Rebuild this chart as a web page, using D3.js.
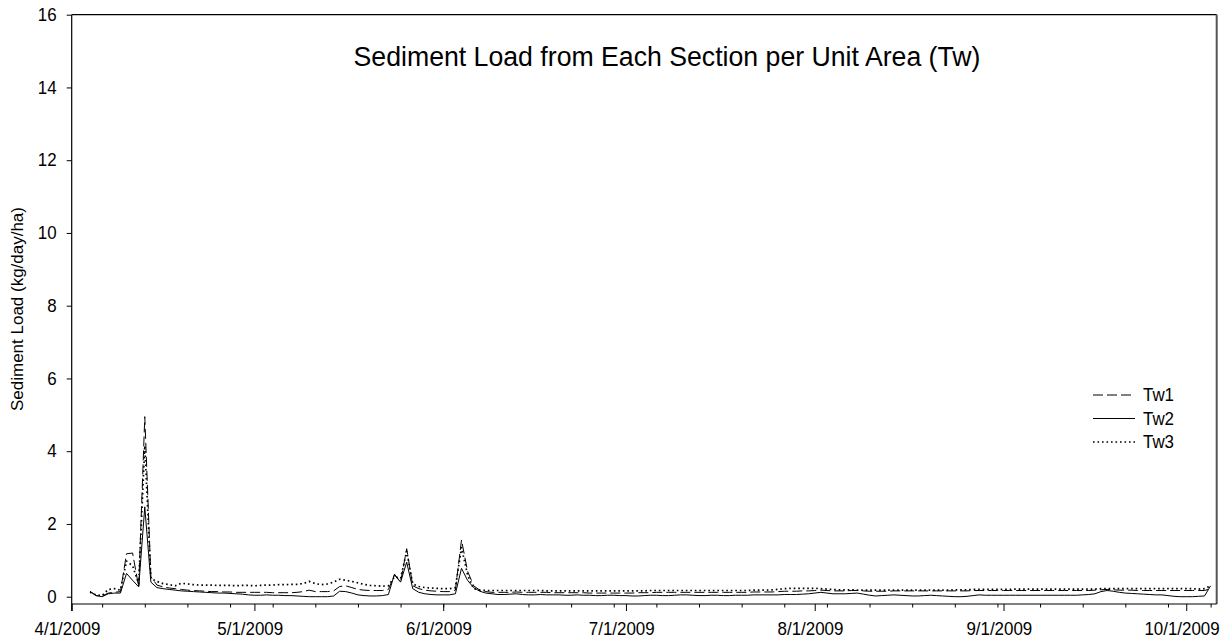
<!DOCTYPE html>
<html><head><meta charset="utf-8">
<script src="https://cdn.jsdelivr.net/npm/d3@7"></script>
<style>
body{margin:0;background:#fff}
svg{display:block}
text{font-family:"Liberation Sans",Arial,sans-serif;fill:#000}
</style>
</head><body>
<svg id="chart" width="1227" height="640"></svg>
<script>
// ---------------- data (daily, starting 4/4/2009) ----------------
const startDate = "2009-04-04";
const seriesNames = ["Tw1", "Tw2", "Tw3"];

const tw1 = [
  // April 4-30
  0.15,0.03,0.02,0.10,0.12,0.14,1.18,1.20,0.27,4.95,0.55,0.32,0.27,0.24,0.22,0.20,0.18,0.17,0.16,0.15,0.14,0.14,0.13,0.13,0.12,0.12,0.12,
  // May
  0.12,0.12,0.12,0.11,0.11,0.11,0.11,0.12,0.14,0.18,0.14,0.14,0.14,0.16,0.28,0.30,0.25,0.20,0.18,0.17,0.17,0.17,0.20,0.60,0.40,1.32,0.30,0.22,0.18,0.16,0.15,
  // June
  0.14,0.14,0.18,1.56,0.70,0.30,0.18,0.14,0.12,0.12,0.12,0.12,0.13,0.12,0.12,0.12,0.12,0.12,0.11,0.11,0.11,0.11,0.11,0.11,0.10,0.10,0.10,0.10,0.10,0.10,
  // July
  0.10,0.10,0.11,0.11,0.11,0.12,0.12,0.12,0.12,0.12,0.12,0.12,0.12,0.12,0.12,0.12,0.12,0.12,0.12,0.12,0.12,0.13,0.13,0.13,0.13,0.14,0.15,0.15,0.15,0.16,0.16,
  // August
  0.17,0.18,0.17,0.16,0.16,0.16,0.17,0.17,0.16,0.15,0.15,0.15,0.15,0.16,0.16,0.16,0.16,0.16,0.16,0.16,0.16,0.16,0.16,0.16,0.16,0.16,0.17,0.17,0.17,0.17,0.17,
  // September
  0.17,0.17,0.17,0.17,0.17,0.17,0.17,0.17,0.17,0.17,0.17,0.17,0.17,0.17,0.17,0.18,0.19,0.20,0.19,0.18,0.18,0.18,0.17,0.17,0.17,0.17,0.17,0.17,0.17,0.17,
  // October 1-5
  0.17,0.17,0.17,0.17,0.22
];

const tw2 = [
  0.14,0.03,0.00,0.08,0.10,0.10,0.64,0.45,0.27,2.47,0.40,0.25,0.22,0.20,0.18,0.16,0.15,0.14,0.13,0.12,0.11,0.10,0.10,0.09,0.08,0.07,0.05,
  0.04,0.04,0.05,0.04,0.04,0.03,0.03,0.02,0.01,0.00,0.00,0.00,0.00,0.02,0.15,0.14,0.10,0.05,0.03,0.02,0.02,0.03,0.06,0.62,0.40,0.95,0.22,0.12,0.08,0.06,0.05,
  0.05,0.05,0.08,0.78,0.45,0.25,0.15,0.10,0.08,0.06,0.06,0.07,0.08,0.06,0.05,0.05,0.06,0.05,0.05,0.05,0.04,0.04,0.05,0.04,0.04,0.03,0.03,0.04,0.04,0.03,
  0.03,0.02,0.02,0.03,0.04,0.04,0.03,0.03,0.04,0.05,0.05,0.04,0.03,0.03,0.04,0.04,0.03,0.03,0.04,0.04,0.04,0.05,0.05,0.05,0.05,0.05,0.06,0.06,0.06,0.07,0.08,
  0.10,0.12,0.10,0.08,0.08,0.08,0.09,0.10,0.07,0.04,0.02,0.03,0.04,0.05,0.04,0.03,0.02,0.02,0.03,0.04,0.03,0.02,0.01,0.00,0.00,0.01,0.03,0.05,0.04,0.04,0.04,
  0.04,0.04,0.04,0.04,0.04,0.04,0.04,0.04,0.04,0.04,0.04,0.04,0.04,0.05,0.06,0.08,0.14,0.17,0.15,0.12,0.10,0.09,0.08,0.07,0.06,0.05,0.05,0.03,0.01,0.00,
  0.00,0.00,0.01,0.02,0.30
];

const tw3 = [
  0.12,0.05,0.03,0.20,0.22,0.18,0.98,0.85,0.35,4.15,0.50,0.42,0.36,0.33,0.30,0.37,0.35,0.33,0.32,0.32,0.32,0.31,0.31,0.31,0.30,0.31,0.31,
  0.30,0.31,0.32,0.32,0.33,0.33,0.34,0.34,0.36,0.42,0.36,0.33,0.35,0.40,0.48,0.45,0.42,0.38,0.34,0.31,0.30,0.29,0.30,0.55,0.50,1.25,0.35,0.28,0.25,0.24,0.23,
  0.22,0.22,0.25,1.35,0.60,0.22,0.18,0.17,0.17,0.17,0.17,0.17,0.17,0.17,0.17,0.17,0.17,0.16,0.16,0.16,0.16,0.16,0.16,0.16,0.16,0.16,0.16,0.16,0.16,0.16,
  0.16,0.16,0.16,0.16,0.17,0.17,0.17,0.17,0.17,0.17,0.17,0.17,0.17,0.17,0.17,0.17,0.17,0.17,0.17,0.17,0.17,0.18,0.18,0.18,0.19,0.20,0.22,0.23,0.23,0.23,0.23,
  0.23,0.22,0.21,0.20,0.19,0.19,0.19,0.18,0.18,0.18,0.18,0.18,0.18,0.18,0.18,0.18,0.18,0.18,0.18,0.18,0.18,0.18,0.18,0.19,0.19,0.19,0.20,0.20,0.20,0.20,0.20,
  0.20,0.20,0.21,0.21,0.21,0.21,0.21,0.21,0.21,0.21,0.21,0.21,0.21,0.21,0.21,0.21,0.22,0.22,0.22,0.22,0.22,0.22,0.22,0.22,0.22,0.22,0.22,0.22,0.22,0.22,
  0.22,0.22,0.21,0.22,0.30
];

const yTickValues = [0, 2, 4, 6, 8, 10, 12, 14, 16];
const monthTicks = ["2009-04-01","2009-05-01","2009-06-01","2009-07-01","2009-08-01","2009-09-01","2009-10-01"];
const titleText = "Sediment Load from Each Section per Unit Area (Tw)";
const yTitle = "Sediment Load (kg/day/ha)";

// ---------------- drawing ----------------
const parse = d3.timeParse("%Y-%m-%d");
const start = parse(startDate);
const svg = d3.select("#chart");

const plotLeft = 71.7, plotRight = 1216.7, plotTop = 14.7, zeroY = 596.7, axisY = 604;
const x = d3.scaleTime().domain([parse("2009-04-01"), parse("2009-10-06")]).range([plotLeft, plotRight]);
const y = d3.scaleLinear().domain([0, 16]).range([zeroY, plotTop]);

const styles = {
  Tw1: {dash: "10,4", width: 1, cap: "butt"},
  Tw2: {dash: null, width: 1, cap: "butt"},
  Tw3: {dash: "1.6,2.9", width: 1.7, cap: "butt"}
};
const seriesData = {Tw1: tw1, Tw2: tw2, Tw3: tw3};
const squeeze = "scale(0.94,1)";

// frame
svg.append("line").attr("x1", plotLeft).attr("x2", plotRight).attr("y1", plotTop).attr("y2", plotTop)
  .attr("stroke", "#000").attr("stroke-width", 1.2);
svg.append("line").attr("x1", plotRight).attr("x2", plotRight).attr("y1", plotTop).attr("y2", axisY)
  .attr("stroke", "#555").attr("stroke-width", 2);

// lines
const line = d3.line()
  .x((d, i) => x(d3.timeDay.offset(start, i)))
  .y(d => y(d));

seriesNames.forEach(name => {
  svg.append("path")
    .datum(seriesData[name])
    .attr("fill", "none")
    .attr("stroke", "#000")
    .attr("stroke-width", styles[name].width)
    .attr("stroke-dasharray", styles[name].dash)
    .attr("stroke-linecap", styles[name].cap)
    .attr("stroke-linejoin", "round")
    .attr("d", line);
});

// y axis
const yAxis = svg.append("g").attr("transform", `translate(${plotLeft},0)`)
  .call(d3.axisLeft(y).tickValues(yTickValues).tickSize(5).tickPadding(11).tickFormat(d3.format("d")));
yAxis.select(".domain").remove();
yAxis.selectAll("text").style("font-size", "18px").attr("font-family", null).attr("transform", squeeze);
yAxis.selectAll("line").attr("stroke", "#000");
svg.append("line").attr("x1", plotLeft).attr("x2", plotLeft).attr("y1", plotTop).attr("y2", axisY + 7)
  .attr("stroke", "#000").attr("stroke-width", 1.2);

// x axis
const fmt = d3.timeFormat("%-m/%-d/%Y");
const xMinor = svg.append("g").attr("transform", `translate(0,${axisY})`)
  .call(d3.axisBottom(x).ticks(d3.timeMonday.every(1)).tickSize(3.5).tickFormat(""));
xMinor.select(".domain").remove();
const xAxis = svg.append("g").attr("transform", `translate(0,${axisY})`)
  .call(d3.axisBottom(x).tickValues(monthTicks.map(parse)).tickSize(7).tickPadding(10).tickFormat(fmt));
xAxis.select(".domain").remove();
xAxis.selectAll("text").style("font-size", "18px").attr("font-family", null)
  .attr("dx", -5).attr("dy", "0.78em").attr("transform", squeeze);
svg.append("line").attr("x1", plotLeft).attr("x2", plotRight).attr("y1", axisY).attr("y2", axisY)
  .attr("stroke", "#000").attr("stroke-width", 1.2);

// title
svg.append("text").attr("transform", "translate(667,66) scale(0.97,1)").attr("text-anchor", "middle")
  .style("font-size", "27.5px").text(titleText);

// y title
svg.append("text").attr("transform", `translate(23,309) scale(0.94,1) rotate(-90)`)
  .attr("text-anchor", "middle").style("font-size", "17px").text(yTitle);

// legend
const legX = 1093, legY = 395, legStep = 23.5;
seriesNames.forEach((name, i) => {
  const g = svg.append("g").attr("transform", `translate(${legX},${legY + i * legStep})`);
  g.append("line").attr("x1", 0).attr("x2", 42).attr("y1", 0).attr("y2", 0)
    .attr("stroke", "#000").attr("stroke-width", styles[name].width)
    .attr("stroke-dasharray", styles[name].dash);
  g.append("text").attr("transform", `translate(50,0) ${squeeze}`).attr("dy", "0.35em")
    .style("font-size", "18px").text(name);
});
</script>
</body></html>
